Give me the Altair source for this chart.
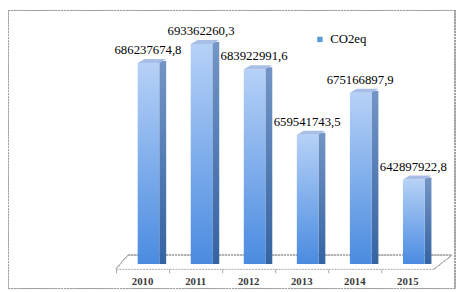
import altair as alt
import pandas as pd

years = ["2010", "2011", "2012", "2013", "2014", "2015"]
values = [686237674.8, 693362260.3, 683922991.6, 659541743.5, 675166897.9, 642897922.8]
series_name = "CO2eq"

labels = [f"{v:.1f}".replace(".", ",") for v in values]
df = pd.DataFrame({"year": years, "value": values, "label": labels, "series": [series_name] * len(years)})

SERIF = "Liberation Serif"
Y_MIN, Y_MAX = 611.46e6, 701.40e6
W, H = 324, 246

x_enc = alt.X("year:N", sort=years, scale=alt.Scale(paddingInner=0, paddingOuter=0),
              axis=alt.Axis(title=None, labelAngle=0, offset=5, bandPosition=0,
                            domainColor="#a8a8a8", domainDash=[2, 1], tickColor="#a8a8a8",
                            tickSize=4, labelPadding=3, labelFont=SERIF,
                            labelFontSize=11, labelFontWeight="bold", labelColor="#3a3a3a",
                            labelBound=False, labelOverlap=False))
y_enc = alt.Y("value:Q", scale=alt.Scale(domain=[Y_MIN, Y_MAX], zero=False, nice=False, clamp=True), axis=None)

base = alt.Chart(df)

front_grad = alt.Gradient(gradient="linear",
                          stops=[alt.GradientStop(color="#b6d1f7", offset=0),
                                 alt.GradientStop(color="#4a8be0", offset=1)],
                          x1=0, x2=0, y1=0, y2=1)
side_grad = alt.Gradient(gradient="linear",
                         stops=[alt.GradientStop(color="#7395c6", offset=0),
                                alt.GradientStop(color="#3563a2", offset=1)],
                         x1=0, x2=0, y1=0, y2=1)

front = base.mark_bar(width=22, xOffset=6, color=front_grad).encode(x=x_enc, y=y_enc, y2=alt.value(H))
side = base.mark_bar(width=7, xOffset=20.5, yOffset=-2, color=side_grad).encode(
    x=x_enc, y=y_enc, y2=alt.value(H - 2))
top_shape = "M -1 0.138 L 0.517 0.138 L 1 -0.138 L -0.517 -0.138 Z"
top = base.mark_point(shape=top_shape, size=841, filled=True, opacity=1, color="#a7bfe6",
                      strokeWidth=0, xOffset=9.5, yOffset=-2).encode(x=x_enc, y=y_enc)
text = base.mark_text(font=SERIF, fontSize=13, dx=5.5, dy=-9, baseline="alphabetic",
                      align="center", color="#000000").encode(x=x_enc, y=y_enc, text="label:N")

legend_layer = base.mark_square(opacity=0, size=1).encode(
    x=x_enc, y=y_enc,
    color=alt.Color("series:N", scale=alt.Scale(range=["#5b9bd5"]),
                    legend=alt.Legend(orient="none", legendX=201, legendY=11, title=None,
                                      labelFont=SERIF, labelFontSize=13,
                                      labelColor="#000000", symbolType="square", symbolSize=30,
                                      symbolOpacity=1, symbolStrokeWidth=0, labelOffset=4)))

floor_style = dict(color="#b0b0b0", strokeDash=[2, 1], strokeWidth=1)
floor_back = base.mark_rule(**floor_style).encode(x=alt.value(12), x2=alt.value(342), y=alt.value(237))
floor_left = base.mark_rule(**floor_style).encode(x=alt.value(0), x2=alt.value(12), y=alt.value(251), y2=alt.value(237))
floor_right = base.mark_rule(**floor_style).encode(x=alt.value(324), x2=alt.value(342), y=alt.value(251), y2=alt.value(237))

border_style = dict(color="#a0a0a0", strokeDash=[2, 1], strokeWidth=1)
b_top = base.mark_rule(**border_style).encode(x=alt.value(-110), x2=alt.value(345), y=alt.value(-12))
b_bot = base.mark_rule(**border_style).encode(x=alt.value(-110), x2=alt.value(345), y=alt.value(271))
b_left = base.mark_rule(**border_style).encode(x=alt.value(-110), y=alt.value(-12), y2=alt.value(271))
b_right = base.mark_rule(**border_style).encode(x=alt.value(345), y=alt.value(-12), y2=alt.value(271))

chart = alt.layer(
    floor_back, floor_left, floor_right, legend_layer, side, front, top, text,
    b_top, b_bot, b_left, b_right
).properties(
    width=W, height=H,
    autosize=alt.AutoSizeParams(type="none"),
    padding={"left": 110, "top": 12, "right": 22, "bottom": 26},
    background="white",
).configure_view(stroke=None)

chart.save("out.html", embed_options={"renderer": "svg", "actions": False})
